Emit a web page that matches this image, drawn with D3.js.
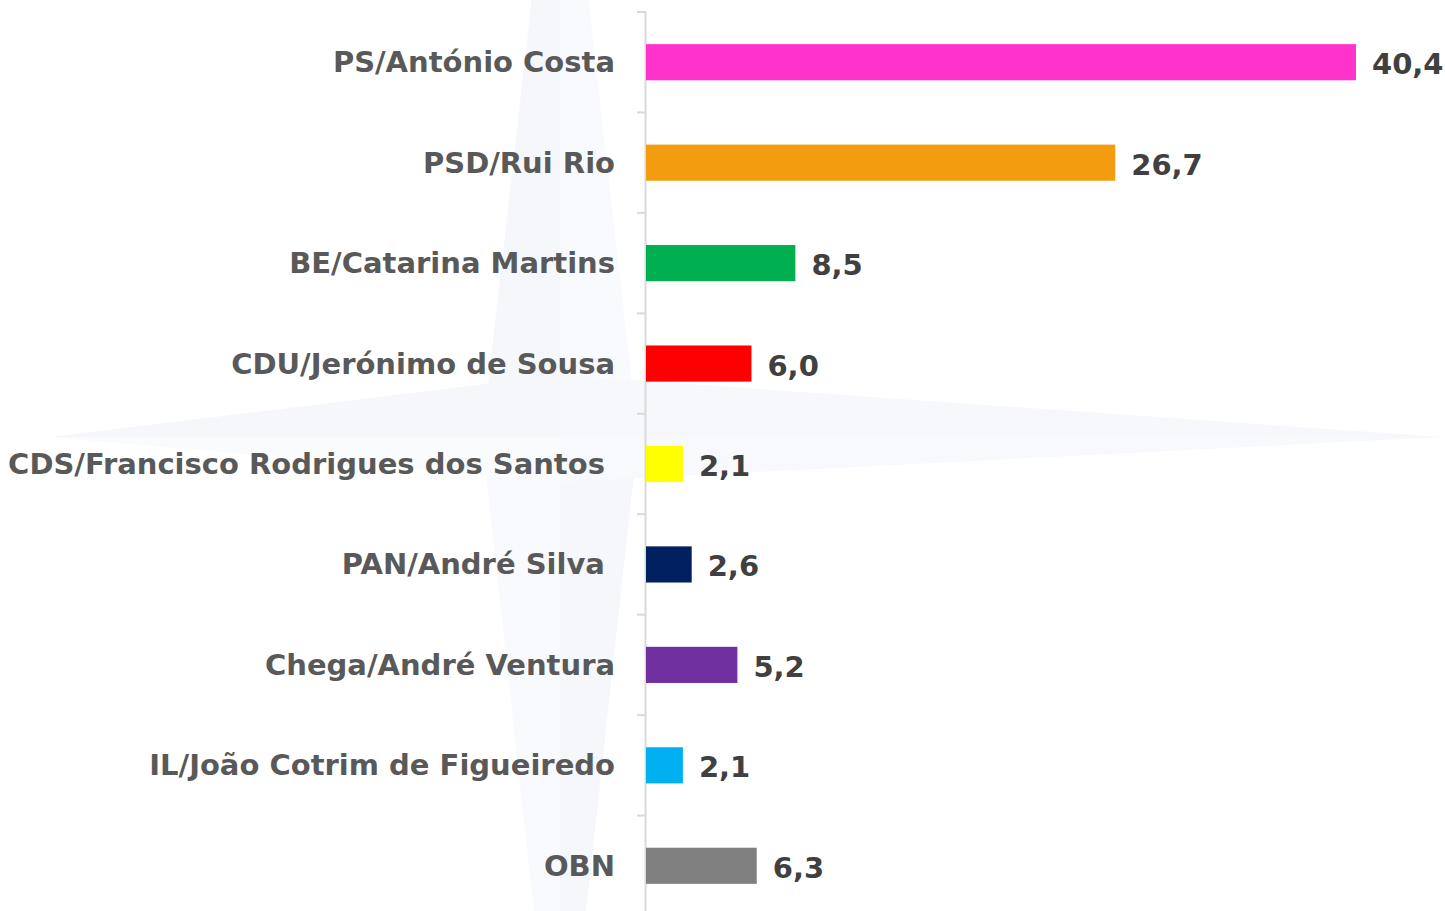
<!DOCTYPE html>
<html>
<head>
<meta charset="utf-8">
<script src="https://cdn.jsdelivr.net/npm/d3@7"></script>
<style>
  html, body { margin: 0; padding: 0; background: #fff; }
  svg { display: block; }
  text { font-family: "DejaVu Sans", Verdana, sans-serif; font-weight: bold; white-space: pre; }
</style>
</head>
<body>
<div id="chart"></div>
<script>
// data
const parties = [
  "PS/António Costa",
  "PSD/Rui Rio",
  "BE/Catarina Martins",
  "CDU/Jerónimo de Sousa",
  "CDS/Francisco Rodrigues dos Santos ",
  "PAN/André Silva ",
  "Chega/André Ventura",
  "IL/João Cotrim de Figueiredo",
  "OBN"
];
const values = [40.4, 26.7, 8.5, 6.0, 2.1, 2.6, 5.2, 2.1, 6.3];
const barColors = ["#ff33cc", "#f39c0f", "#00b050", "#ff0000", "#ffff00", "#002060", "#7030a0", "#00b0f0", "#808080"];

const W = 1445, H = 911;
const axisX = 646;

const svg = d3.select("#chart").append("svg")
    .attr("width", W)
    .attr("height", H);

// faint compass-star watermark behind the chart
const wm = svg.append("g").attr("class", "watermark");
const cx = 560, cy = 437;
const star = [
  // vertical arm halves
  { pts: [[cx, -250], [cx - 78, cy], [cx, cy]], fill: "#f5f7fb" },
  { pts: [[cx, -250], [cx + 78, cy], [cx, cy]], fill: "#f9fafd" },
  { pts: [[cx, 1150], [cx - 78, cy], [cx, cy]], fill: "#f9fafd" },
  { pts: [[cx, 1150], [cx + 78, cy], [cx, cy]], fill: "#f5f7fb" },
  // horizontal arm halves
  { pts: [[50, cy], [cx, cy - 62], [cx, cy]], fill: "#f5f7fb" },
  { pts: [[50, cy], [cx, cy + 45], [cx, cy]], fill: "#fafbfd" },
  { pts: [[1442, cy], [cx, cy - 62], [cx, cy]], fill: "#f6f8fb" },
  { pts: [[1442, cy], [cx, cy + 45], [cx, cy]], fill: "#f8f9fc" }
];
wm.selectAll("polygon").data(star).enter().append("polygon")
    .attr("points", d => d.pts.map(p => p.join(",")).join(" "))
    .attr("fill", d => d.fill);

const x = d3.scaleLinear().domain([0, 40.4]).range([axisX, 1356]);
const y = d3.scaleBand().domain(parties).range([12, 916]).paddingInner(0.64).paddingOuter(0.32);
const step = y.step();

// axis line and category separators
svg.append("line")
    .attr("x1", axisX - 0.5).attr("x2", axisX - 0.5)
    .attr("y1", 12).attr("y2", H)
    .attr("stroke", "#d9d9d9").attr("stroke-width", 2);

svg.selectAll("line.sep")
    .data(parties).enter().append("line")
    .attr("class", "sep")
    .attr("x1", axisX - 9).attr("x2", axisX)
    .attr("y1", d => y(d) - step * 0.32)
    .attr("y2", d => y(d) - step * 0.32)
    .attr("stroke", "#d9d9d9").attr("stroke-width", 2);

// bars
svg.selectAll("rect.bar")
    .data(parties).enter().append("rect")
    .attr("class", "bar")
    .attr("x", axisX)
    .attr("y", d => y(d))
    .attr("width", (d, i) => x(values[i]) - axisX)
    .attr("height", y.bandwidth())
    .attr("fill", (d, i) => barColors[i]);

// category labels
svg.selectAll("text.cat")
    .data(parties).enter().append("text")
    .attr("class", "cat")
    .attr("x", 615)
    .attr("y", d => y(d) + y.bandwidth() / 2)
    .attr("text-anchor", "end")
    .attr("dominant-baseline", "central")
    .style("font-size", "29px")
    .style("fill", "#595959")
    .text(d => d);

// value labels
svg.selectAll("text.val")
    .data(parties).enter().append("text")
    .attr("class", "val")
    .attr("x", (d, i) => x(values[i]) + 16)
    .attr("y", d => y(d) + y.bandwidth() / 2 + 2)
    .attr("dominant-baseline", "central")
    .style("font-size", "29px")
    .style("fill", "#404040")
    .text((d, i) => values[i].toFixed(1).replace(".", ","));
</script>
</body>
</html>
